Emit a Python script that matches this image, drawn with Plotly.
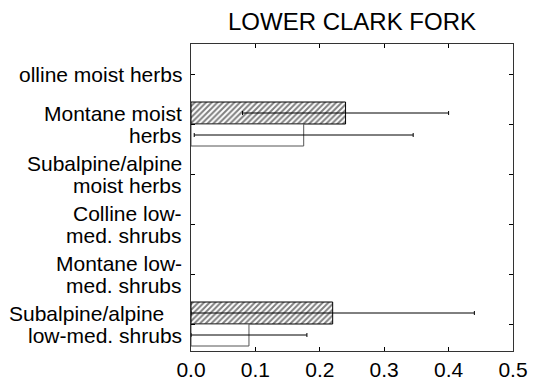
import plotly.graph_objects as go

# Category labels (each entry is a list of text lines), top to bottom
label_lines = [
    ["olline moist herbs"],
    ["Montane moist", "herbs"],
    ["Subalpine/alpine", "moist herbs"],
    ["Colline low-", "med. shrubs"],
    ["Montane low-", "med. shrubs"],
    ["Subalpine/alpine\u00a0\u00a0\u00a0", "low-med. shrubs"],
]
positions = list(range(len(label_lines)))

# Hatched series: mean and error
series_a = [None, 0.24, None, None, None, 0.22]
err_a = [None, 0.16, None, None, None, 0.22]
# Open series: mean and error
series_b = [None, 0.175, None, None, None, 0.09]
err_b = [None, 0.17, None, None, None, 0.09]

x_ticks = [0.0, 0.1, 0.2, 0.3, 0.4, 0.5]
title_text = "LOWER CLARK FORK"

FONT = "Liberation Sans, Arial, sans-serif"

fig = go.Figure()
fig.add_trace(go.Bar(
    y=positions, x=series_a, orientation="h",
    marker=dict(color="white",
                line=dict(color="black", width=1),
                pattern=dict(shape="/", fgcolor="black", bgcolor="white",
                             size=4, solidity=0.5, fillmode="overlay")),
    error_x=dict(type="data", array=err_a, symmetric=True,
                 color="black", thickness=1, width=2),
    showlegend=False,
))
fig.add_trace(go.Bar(
    y=positions, x=series_b, orientation="h",
    marker=dict(color="white", line=dict(color="#555555", width=1)),
    error_x=dict(type="data", array=err_b, symmetric=True,
                 color="black", thickness=1, width=2),
    showlegend=False,
))

# Category labels as right-aligned text lines next to the axis
annotations = []
for pos, lines in zip(positions, label_lines):
    n = len(lines)
    for i, line in enumerate(lines):
        shift = ((n - 1) / 2 - i) * 22
        annotations.append(dict(
            x=0, xref="paper", y=pos, yref="y",
            text=line, showarrow=False,
            xanchor="right", yanchor="middle",
            xshift=-7, yshift=shift,
            font=dict(family=FONT, size=21, color="black"),
        ))

fig.update_layout(
    width=539, height=381,
    margin=dict(l=191, r=26, t=44, b=30, autoexpand=False),
    paper_bgcolor="white", plot_bgcolor="white",
    barmode="group", bargap=0.12, bargroupgap=0,
    font=dict(family=FONT, color="black"),
    title=dict(text=title_text, x=0.5, xref="paper", xanchor="center",
               y=1 - 21.5 / 381, yanchor="middle",
               font=dict(family=FONT, size=24, color="black")),
    annotations=annotations,
    xaxis=dict(range=[0, 0.5], tickvals=x_ticks,
               ticktext=[f"{v:.1f}" for v in x_ticks],
               ticks="inside", ticklen=4, tickcolor="black",
               automargin=False,
               showline=True, linecolor="#333333", linewidth=1,
               mirror="ticks", showgrid=False, zeroline=False,
               tickfont=dict(family=FONT, size=21, color="black")),
    yaxis=dict(range=[5.54, -0.6], tickvals=positions,
               ticktext=["" for _ in positions], automargin=False,
               ticks="inside", ticklen=4, tickcolor="black",
               showline=True, linecolor="#333333", linewidth=1,
               mirror="ticks", showgrid=False, zeroline=False),
)

fig.write_html("out.html")
